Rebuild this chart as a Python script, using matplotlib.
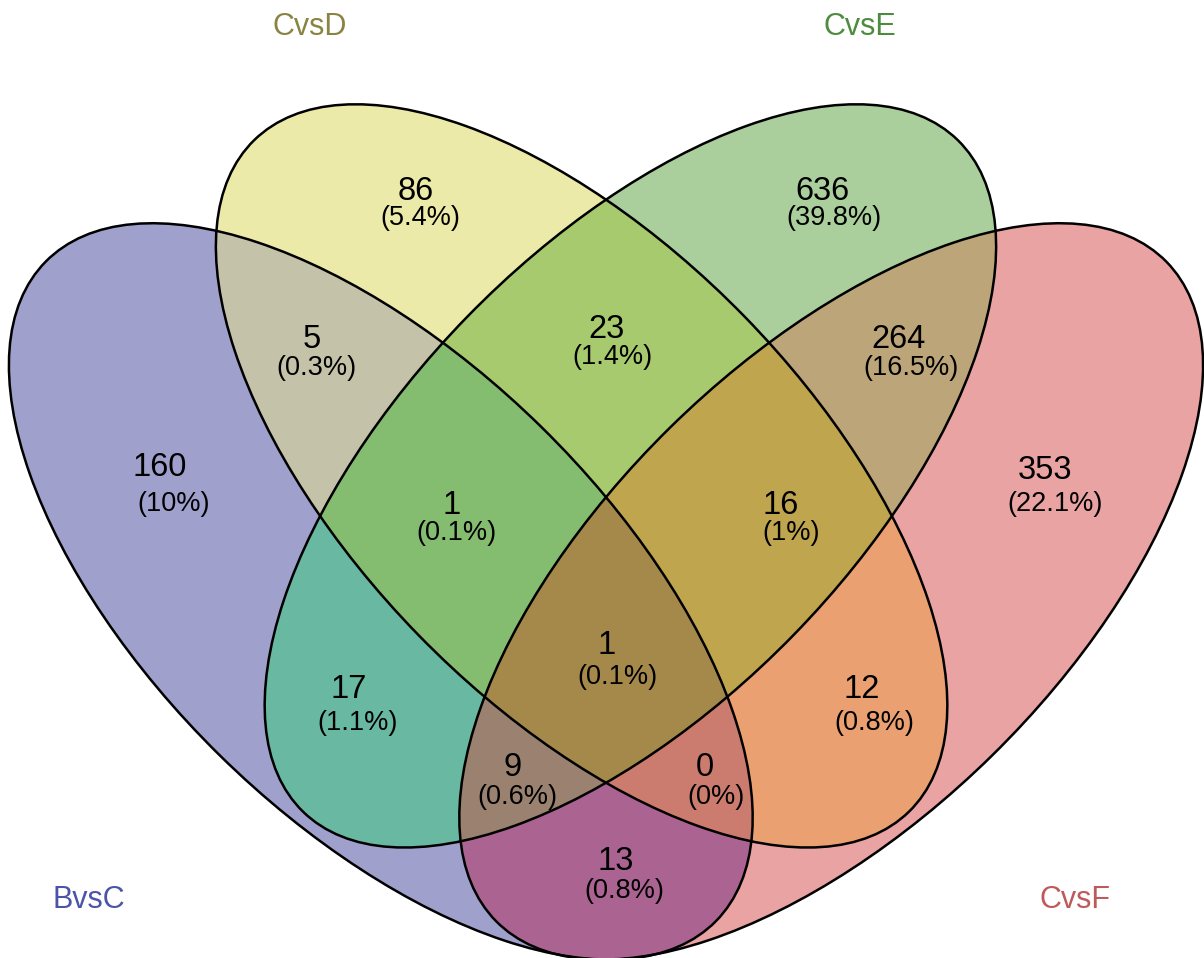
import matplotlib
matplotlib.use("Agg")
import matplotlib.pyplot as plt
from matplotlib.patches import Ellipse
from matplotlib.colors import to_rgb
import numpy as np

plt.rcParams['font.family'] = ['Liberation Sans', 'DejaVu Sans']

# set names and colours
set_names = ['BvsC', 'CvsD', 'CvsE', 'CvsF']
label_cols = ['#4b55a8', '#8a8444', '#4e8b3e', '#be5a5a']

# region counts (letters = sets the region lies in)
region_keys = ['B', 'D', 'E', 'F', 'BD', 'DE', 'EF', 'BDE', 'DEF', 'BDEF',
               'BE', 'DF', 'BEF', 'BDF', 'BF']
region_counts = [160, 86, 636, 353, 5, 23, 264, 1, 16, 1, 17, 12, 9, 0, 13]
region_cols = ['#a0a0cc', '#edeba8', '#aacf9c', '#eaa3a3', '#c4c3a9',
               '#a8ca6e', '#bca679', '#85be70', '#bfa64e', '#a58a4a',
               '#6ab9a1', '#eba070', '#9b8170', '#cb7c6e', '#ab6491']

# layout (pixel coords of the 1204x958 picture)
ell_geom = [  # cx, cy, width, height, angle
    (380.8, 591.4, 940.3, 459.6, 44.53),
    (581.6, 475.9, 937.9, 455.8, 45.74),
    (630.4, 475.9, 937.9, 455.8, -45.74),
    (831.2, 591.4, 940.3, 459.6, -44.53),
]
num_pos = {
    'B': (160, 467), 'D': (416, 191), 'E': (822, 191), 'F': (1045, 470),
    'BD': (312, 339), 'DE': (606, 330), 'EF': (899, 339),
    'BDE': (452, 505), 'DEF': (781, 505), 'BDEF': (607, 646),
    'BE': (349, 689), 'DF': (862, 689), 'BEF': (513, 768),
    'BDF': (705, 767), 'BF': (616, 861),
}
pct_shift = {
    'B': (14, 37), 'D': (4, 27), 'E': (12, 27), 'F': (10, 34),
    'BD': (4, 29), 'DE': (6, 27), 'EF': (12, 29),
    'BDE': (4, 28), 'DEF': (10, 28), 'BDEF': (10, 31),
    'BE': (9, 34), 'DF': (12, 34), 'BEF': (4, 29),
    'BDF': (11, 30), 'BF': (8, 30),
}
cat_pos = [(89, 900), (310, 27), (860, 27), (1075, 900)]

total = sum(region_counts)

fig = plt.figure(figsize=(12.04, 9.58), dpi=100)
ax = fig.add_axes([0, 0, 1, 1])
ax.set_xlim(0, 1204)
ax.set_ylim(958, 0)
ax.axis('off')

# membership of each pixel in each ellipse -> region colour
step = 0.5
yy, xx = np.mgrid[0:958:step, 0:1204:step]
xx = xx + step / 2
yy = yy + step / 2
code = np.zeros(xx.shape, dtype=int)
for bit, (cx, cy, w, h, ang) in enumerate(ell_geom):
    t = np.deg2rad(ang)
    dx, dy = xx - cx, yy - cy
    u = dx * np.cos(t) + dy * np.sin(t)
    v = -dx * np.sin(t) + dy * np.cos(t)
    code += ((u / (w / 2)) ** 2 + (v / (h / 2)) ** 2 <= 1).astype(int) << bit

lut = np.ones((16, 3))
bits = {'B': 1, 'D': 2, 'E': 4, 'F': 8}
for key, col in zip(region_keys, region_cols):
    lut[sum(bits[c] for c in key)] = to_rgb(col)
ax.imshow(lut[code], extent=(0, 1204, 958, 0), interpolation='antialiased')

for (cx, cy, w, h, ang) in ell_geom:
    ax.add_patch(Ellipse((cx, cy), w, h, angle=ang, facecolor='none',
                         edgecolor='black', lw=1.8))

for key, n in zip(region_keys, region_counts):
    x, y = num_pos[key]
    dx, dy = pct_shift[key]
    pct = round(n / total * 100, 1)
    ax.text(x, y, str(n), fontsize=23.5, ha='center', va='center')
    ax.text(x + dx, y + dy, '(%s%%)' % format(pct, 'g'), fontsize=19.5,
            ha='center', va='center')

for name, (x, y), col in zip(set_names, cat_pos, label_cols):
    ax.text(x, y, name, fontsize=22, color=col, ha='center', va='center')

ax.set_xlim(0, 1204)
ax.set_ylim(958, 0)
fig.savefig('out.png', dpi=100)
